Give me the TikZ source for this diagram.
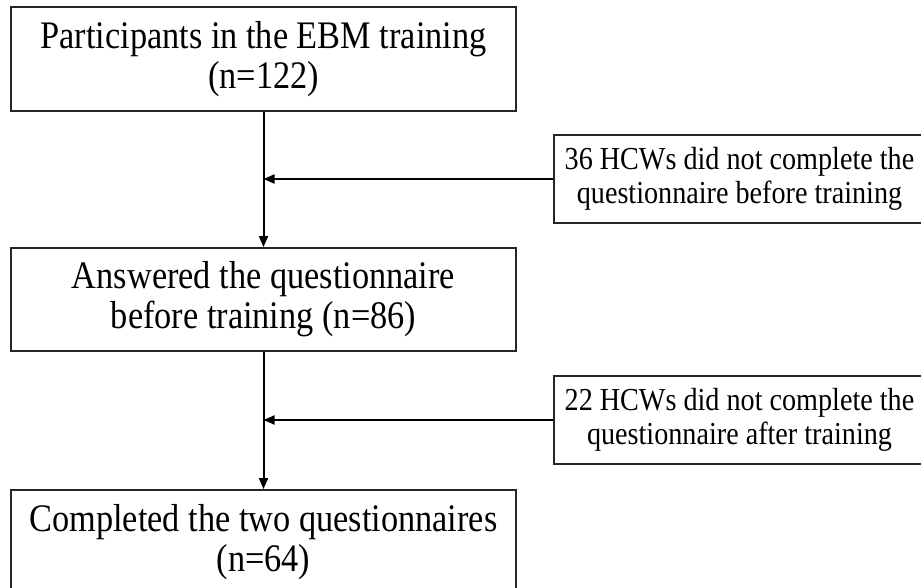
\documentclass[tikz,border=0pt]{standalone}
\usepackage{fontspec}
\setmainfont{Liberation Serif}
\newfontfamily\bigserif[FakeStretch=0.88]{Liberation Serif}
\newfontfamily\smallserif[FakeStretch=0.88]{Liberation Serif}
\usetikzlibrary{arrows.meta}
\begin{document}
\begin{tikzpicture}[x=1pt,y=-1pt,
  mainbox/.style={draw=black!85, line width=2pt, minimum width=505pt, minimum height=104pt,
    align=center, inner sep=0pt, font=\bigserif\fontsize{39}{40}\selectfont},
  sidebox/.style={draw=black!85, line width=2pt, minimum width=371pt, minimum height=88pt,
    align=center, inner sep=0pt, font=\smallserif\fontsize{32}{34}\selectfont},
  flow/.style={draw=black, line width=2pt, -{Triangle[length=11pt,width=9pt]}}]
\useasboundingbox (0,0) rectangle (921,587);
\clip (0,0) rectangle (921,587);
\node[mainbox] (b1) at (263.5,59) {Participants in the EBM training\\(n=122)};
\node[mainbox, minimum height=103pt] (b2) at (263.5,299.5) {Answered the questionnaire\\before training (n=86)};
\node[mainbox] (b3) at (263.5,542) {Completed the two questionnaires\\(n=64)};
\node[sidebox] (s1) at (739.5,179) {36 HCWs did not complete the\\questionnaire before training};
\node[sidebox] (s2) at (739.5,420) {22 HCWs did not complete the\\questionnaire after training};
\coordinate (j1) at (b1.south |- s1.west);
\coordinate (j2) at (b2.south |- s2.west);
\draw[flow] (b1.south) -- (b2.north);
\draw[flow] (b2.south) -- (b3.north);
\draw[flow] (s1.west) -- (j1);
\draw[flow] (s2.west) -- (j2);
\end{tikzpicture}
\end{document}
